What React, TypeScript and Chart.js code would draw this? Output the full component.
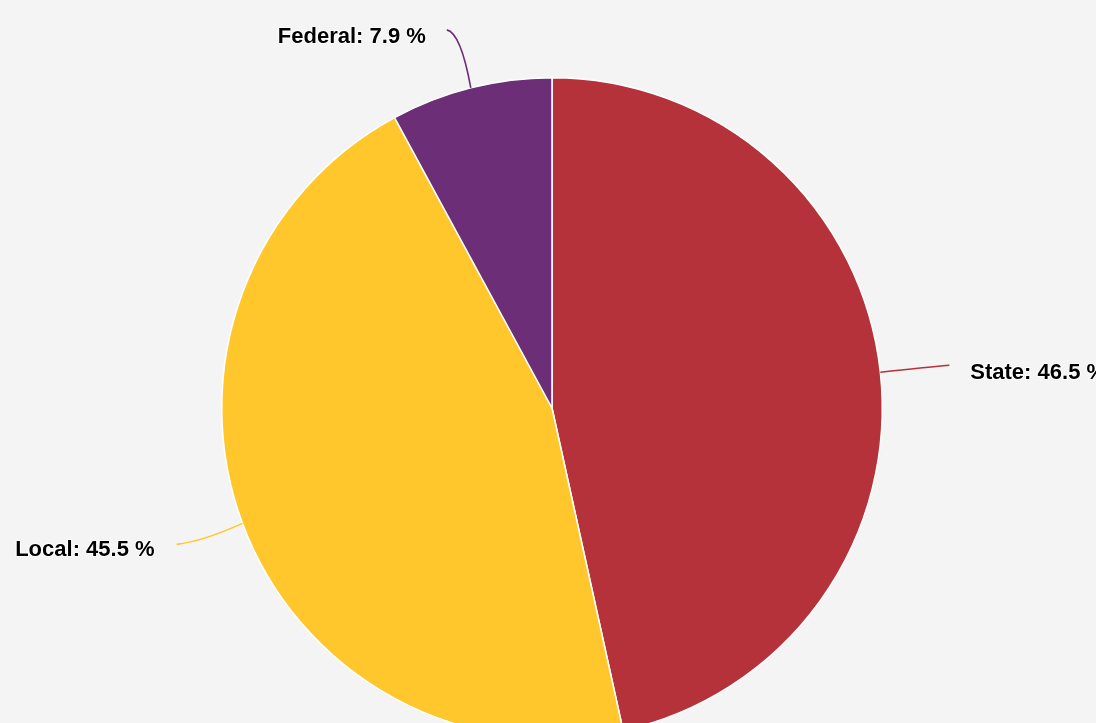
import React, { useEffect, useRef } from "react";
import { Chart, registerables } from "chart.js";

Chart.register(...registerables);

const categories = ["State", "Local", "Federal"];
const shares = [46.5, 45.5, 7.9];
const colors = ["#b5323a", "#ffc72c", "#6c2f77"];

// per-label connector geometry relative to the slice edge point
const connectorEnds = [
  { dx: 69, dy: -7, cx: 45, cy: -5, tx: 21, ty: 8, align: "left" },
  { dx: -66, dy: 21, cx: -40, cy: 18, tx: -22, ty: 6, align: "right" },
  { dx: -24, dy: -58, cx: -10, cy: -55, tx: -21, ty: 7, align: "right" },
];

const labelPlugin = {
  id: "pieLabels",
  afterDraw(chart: any) {
    const ctx = chart.ctx;
    const meta = chart.getDatasetMeta(0);
    meta.data.forEach((arc: any, i: number) => {
      const { x, y, startAngle, endAngle, outerRadius } = arc.getProps(
        ["x", "y", "startAngle", "endAngle", "outerRadius"],
        true
      );
      const mid = (startAngle + endAngle) / 2;
      const ex = x + Math.cos(mid) * outerRadius;
      const ey = y + Math.sin(mid) * outerRadius;
      const c = connectorEnds[i];
      ctx.save();
      ctx.strokeStyle = colors[i];
      ctx.lineWidth = 1.6;
      ctx.beginPath();
      ctx.moveTo(ex, ey);
      ctx.quadraticCurveTo(ex + c.cx, ey + c.cy, ex + c.dx, ey + c.dy);
      ctx.stroke();
      const text = `${categories[i]}: ${shares[i].toFixed(1)} %`;
      ctx.font = "bold 22px 'Liberation Sans', Arial, sans-serif";
      ctx.textAlign = c.align;
      ctx.textBaseline = "middle";
      const lx = ex + c.dx + c.tx;
      const ly = ey + c.dy + c.ty;
      ctx.lineJoin = "round";
      ctx.strokeStyle = "#ffffff";
      ctx.lineWidth = 2;
      ctx.strokeText(text, lx, ly);
      ctx.fillStyle = "#000000";
      ctx.fillText(text, lx, ly);
      ctx.restore();
    });
  },
};

export default function App() {
  const ref = useRef<HTMLCanvasElement>(null);
  useEffect(() => {
    document.body.style.margin = "0";
    document.body.style.background = "#f4f4f4";
    const chart = new Chart(ref.current!, {
      type: "pie",
      data: {
        labels: categories,
        datasets: [
          {
            data: shares,
            backgroundColor: colors,
            borderColor: "#ffffff",
            borderWidth: 1.5,
          },
        ],
      },
      options: {
        responsive: false,
        animation: false,
        devicePixelRatio: 1,
        layout: { padding: { left: 221, right: 213, top: 77, bottom: 61 } },
        plugins: { legend: { display: false }, tooltip: { enabled: false } },
      },
      plugins: [labelPlugin],
    });
    return () => chart.destroy();
  }, []);
  return (
    <div
      style={{
        position: "fixed",
        left: 0,
        top: 0,
        width: 1096,
        height: 723,
        overflow: "hidden",
        background: "#f4f4f4",
      }}
    >
      <canvas ref={ref} width={1096} height={800} style={{ width: 1096, height: 800, display: "block" }} />
    </div>
  );
}
